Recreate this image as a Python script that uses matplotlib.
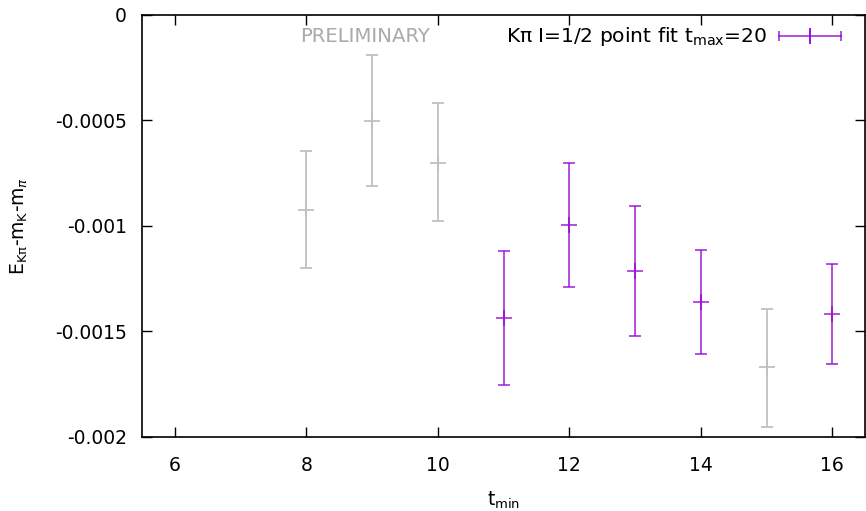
import matplotlib.pyplot as plt

# fit results vs t_min (gray = not used / preliminary points)
t_gray = [8, 9, 10, 15]
e_gray = [-0.000924, -0.000501, -0.000700, -0.001671]
lo_gray = [-0.00120, -0.00081, -0.000977, -0.001951]
hi_gray = [-0.000645, -0.00019, -0.000419, -0.001392]

t_fit = [11, 12, 13, 14, 16]
e_fit = [-0.001438, -0.000998, -0.001212, -0.001362, -0.001417]
lo_fit = [-0.001754, -0.001292, -0.001520, -0.001608, -0.001656]
hi_fit = [-0.001120, -0.000700, -0.000904, -0.001115, -0.001179]

xticks = [6, 8, 10, 12, 14, 16]
yticks = [0, -0.0005, -0.001, -0.0015, -0.002]
ytick_labels = ["0", "-0.0005", "-0.001", "-0.0015", "-0.002"]

purple = "#9400d3"
gray = "#c0c0c0"

plt.rcParams["font.family"] = "DejaVu Sans"
plt.rcParams["font.size"] = 13.5

fig = plt.figure(figsize=(8.66, 5.11), dpi=100)
ax = fig.add_axes([0.164, 0.145, 0.835, 0.826])


def draw(t, e, lo, hi, color, alpha):
    yerr = [[c - l for c, l in zip(e, lo)], [h - c for c, h in zip(e, hi)]]
    ax.errorbar(t, e, yerr=yerr, fmt="+", color=color, ecolor=color, elinewidth=1.3,
                capsize=4.5, capthick=1.3, markersize=11, markeredgewidth=1.3, alpha=alpha)


draw(t_gray, e_gray, lo_gray, hi_gray, gray, 1.0)
draw(t_fit, e_fit, lo_fit, hi_fit, purple, 0.75)

ax.set_xlim(5.5, 16.5)
ax.set_ylim(-0.002, 0)
ax.set_xticks(xticks)
ax.set_yticks(yticks)
ax.set_yticklabels(ytick_labels)
ax.tick_params(direction="in", top=True, right=True, length=7, width=1)
ax.tick_params(axis="y", pad=11)
ax.tick_params(axis="x", pad=14)
for s in ax.spines.values():
    s.set_linewidth(1.2)

ax.set_xlabel(r"t$_{\rm min}$", labelpad=10)
ax.set_ylabel(r"E$_{\rm K\pi}$-m$_{\rm K}$-m$_{\pi}$", labelpad=18)

ax.text(0.308, 0.949, "PRELIMINARY", transform=ax.transAxes, color="#aaaaaa",
        ha="center", va="center", fontsize=14.2)

# gnuplot-style key: label left of a horizontal errorbar sample
ax.text(0.865, 0.949, "K\u03c0 I=1/2 point fit t$_{\\rm max}$=20", transform=ax.transAxes,
        ha="right", va="center", fontsize=14.6)
ax.plot([0.881, 0.967], [0.949, 0.949], transform=ax.transAxes, color=purple,
        lw=1.3, alpha=0.75)
ax.plot([0.881, 0.967], [0.949, 0.949], transform=ax.transAxes, ls="none",
        marker="|", markersize=7, color=purple, mew=1.3, alpha=0.75)
ax.plot([0.924], [0.949], transform=ax.transAxes, marker="|", markersize=11,
        color=purple, mew=1.3)

fig.savefig("out.png", dpi=100)
